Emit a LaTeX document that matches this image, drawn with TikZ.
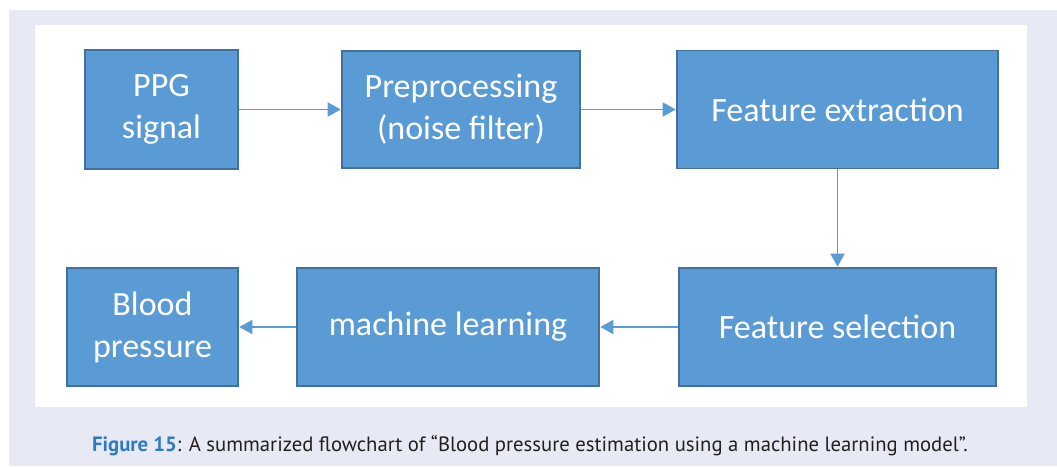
\documentclass[tikz,border=0pt]{standalone}
\usepackage{fontspec}
\setmainfont{Carlito}
\newfontfamily\capfont{PT Sans}
\usetikzlibrary{arrows.meta}
\definecolor{pagebg}{HTML}{E7EAF5}
\definecolor{boxfill}{HTML}{5B9BD5}
\definecolor{boxedge}{HTML}{41719C}
\definecolor{figblue}{HTML}{2F7BC2}
\definecolor{captext}{HTML}{231F20}
\tikzset{
  stepbox/.style={draw=boxedge, line width=1.6pt, fill=boxfill, text=white,
    inner sep=0pt, align=center, font=\fontsize{34}{42}\selectfont},
  flow/.style={draw=boxfill, line width=1.8pt,
    -{Triangle[length=13pt,width=14pt]}, shorten >=0.5pt}
}
\begin{document}
\begin{tikzpicture}[x=1pt,y=-1pt]
  % page frame and panel
  \useasboundingbox (0,0) rectangle (1057,466);
  \fill[white] (0,0) rectangle (1057,466);
  \fill[pagebg] (9,10) rectangle (1057,466);
  \fill[white] (35,25) rectangle (1027,407);

  % process steps
  \node[stepbox, minimum width=153pt, minimum height=119pt] (ppg) at (161.5,109.5) {PPG\\signal};
  \node[stepbox, minimum width=238pt, minimum height=117pt] (pre) at (461,109.5) {Preprocessing\\(noise filter)};
  \node[stepbox, minimum width=321pt, minimum height=118pt] (fext) at (837.5,109.5) {Feature extraction};
  \node[stepbox, minimum width=317pt, minimum height=118pt] (fsel) at (837.5,327) {Feature selection};
  \node[stepbox, minimum width=302pt, minimum height=118pt] (ml) at (448,327) {machine learning};
  \node[stepbox, minimum width=171pt, minimum height=118pt] (bp) at (152.5,327) {Blood\\pressure};

  % connectors
  \draw[flow] (ppg) -- (pre);
  \draw[flow] (pre) -- (fext);
  \draw[flow] (fext) -- (fsel);
  \draw[flow] (fsel) -- (ml);
  \draw[flow] (ml) -- (bp);

  % caption
  \node[anchor=base, font=\capfont\fontsize{20.7}{24}\selectfont, text=captext, inner sep=0pt] (cap) at (530,451)
    {{\bfseries\color{figblue}Figure 15}: A summarized flowchart of “Blood pressure estimation using a machine learning model”.};
\end{tikzpicture}
\end{document}
